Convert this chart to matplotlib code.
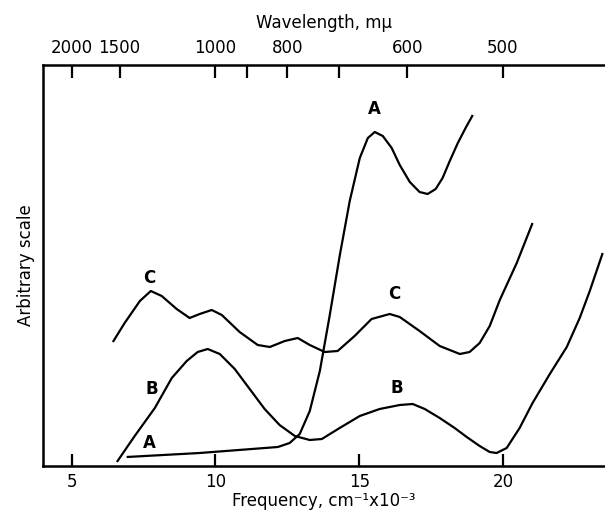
import numpy as np
import matplotlib
matplotlib.use('Agg')
import matplotlib.pyplot as plt

# ---- data (frequency in 10^3 cm^-1, arbitrary intensity) ----
freq_ticks = [5, 10, 15, 20]
wl_ticks = [2000, 1500, 1000, 900, 800, 700, 600, 500]
wl_labels = ['2000', '1500', '1000', '', '800', '', '600', '500']

a_f = [6.91, 9.45, 12.17, 12.58, 12.93, 13.28, 13.63, 13.97, 14.32, 14.67, 15.02, 15.30,
       15.54, 15.82, 16.13, 16.41, 16.76, 17.10, 17.38, 17.66, 17.90, 18.15, 18.43, 18.70, 18.95]
a_y = [9, 13, 19, 23, 32, 55, 95, 150, 210, 265, 308, 328,
       334, 330, 318, 301, 284, 274, 272, 277, 288, 305, 323, 338, 351]

b_f = [6.57, 7.19, 7.89, 8.48, 9.00, 9.38, 9.73, 10.15, 10.67, 11.19, 11.71, 12.23, 12.76,
       13.28, 13.70, 14.32, 15.02, 15.71, 16.41, 16.86, 17.28, 17.80, 18.32, 18.74, 19.19,
       19.54, 19.78, 20.13, 20.58, 21.03, 21.63, 22.22, 22.67, 23.02, 23.47]
b_y = [4, 30, 58, 88, 105, 114, 117, 112, 97, 77, 57, 41, 30,
       26, 27, 38, 50, 57, 61, 62, 57, 48, 38, 29, 20,
       14, 13, 18, 38, 63, 92, 119, 148, 175, 213]

c_f = [6.43, 6.84, 7.37, 7.75, 8.13, 8.65, 9.10, 9.45, 9.87, 10.22, 10.84, 11.47, 11.89,
       12.41, 12.86, 13.28, 13.80, 14.25, 14.84, 15.43, 16.06, 16.41, 17.10, 17.80, 18.50,
       18.84, 19.19, 19.54, 19.89, 20.48, 21.03]
c_y = [124, 143, 165, 175, 170, 157, 148, 152, 156, 151, 134, 121, 119,
       125, 128, 121, 114, 115, 130, 147, 152, 149, 135, 120, 112,
       114, 123, 140, 166, 203, 243]

curve_labels = [('A', 15.54, 357), ('A', 7.71, 23), ('B', 7.77, 77), ('B', 16.3, 78),
                ('C', 7.68, 188), ('C', 16.23, 172)]

# ---- figure ----
fig = plt.figure(figsize=(6.05, 5.17), dpi=100)
ax = fig.add_axes([43 / 605, 51 / 517, (605 - 43) / 605, 401 / 517])

lw = 1.6
for f, y in ((a_f, a_y), (b_f, b_y), (c_f, c_y)):
    ax.plot(f, y, color='black', lw=lw, solid_capstyle='butt')

for txt, x, y in curve_labels:
    ax.text(x, y, txt, ha='center', va='center', fontsize=12, fontweight='bold')

ax.set_xlim(4.0, 23.55)
ax.set_ylim(0, 401)

ax.set_xticks(freq_ticks)
ax.set_xticklabels([str(t) for t in freq_ticks])
ax.set_yticks([])
ax.tick_params(axis='x', direction='in', length=9, width=1.6, labelsize=12, pad=5)
ax.spines['right'].set_visible(False)
for s in ('left', 'bottom', 'top'):
    ax.spines[s].set_linewidth(1.8)

ax.set_xlabel('Frequency, cm\u207b\u00b9x10\u207b\u00b3', fontsize=12, labelpad=1)
ax.set_ylabel('Arbitrary scale', fontsize=12, labelpad=6)

ax2 = ax.twiny()
ax2.set_xlim(ax.get_xlim())
ax2.set_xticks(1e4 / np.array(wl_ticks, dtype=float))
ax2.set_xticklabels(wl_labels)
ax2.tick_params(axis='x', direction='in', length=9, width=1.6, labelsize=12, pad=6)
for s in ax2.spines.values():
    s.set_visible(False)
ax2.set_xlabel('Wavelength, m\u03bc', fontsize=12, labelpad=8)

fig.savefig('out.png', dpi=100)
